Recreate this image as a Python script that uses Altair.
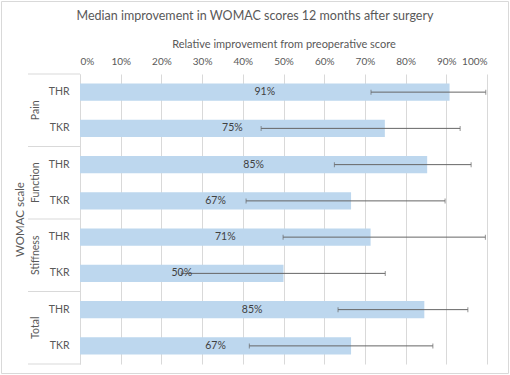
import altair as alt
import pandas as pd

# ---- data ----
groups = ["Pain", "Pain", "Function", "Function", "Stiffness", "Stiffness", "Total", "Total"]
procedures = ["THR", "TKR", "THR", "TKR", "THR", "TKR", "THR", "TKR"]
median = [0.908, 0.749, 0.853, 0.666, 0.714, 0.500, 0.846, 0.666]
err_lo = [0.715, 0.445, 0.625, 0.408, 0.499, 0.249, 0.634, 0.416]
err_hi = [0.997, 0.934, 0.961, 0.897, 0.996, 0.750, 0.953, 0.867]
group_names = ["Pain", "Function", "Stiffness", "Total"]
x_ticks = [0, 0.1, 0.2, 0.3, 0.4, 0.5, 0.6, 0.7, 0.8, 0.9, 1.0]

title_text = "Median improvement in WOMAC scores 12 months after surgery"
x_title = "Relative improvement from preoperative score"
y_title = "WOMAC scale"

rows = [g + "|" + p for g, p in zip(groups, procedures)]
df = pd.DataFrame({"row": rows, "group": groups, "proc": procedures,
                   "median": median, "lo": err_lo, "hi": err_hi})
df["mid"] = df["median"] / 2

FONT = "Lato"
TXT = "#595959"
GRID = "#d9d9d9"

yscale = alt.Scale(domain=rows, paddingInner=0, paddingOuter=0)

base = alt.Chart(df)

bars = base.mark_bar(color="#bdd7ee", height={"band": 0.47}).encode(
    x=alt.X("median:Q", scale=alt.Scale(domain=[0, 1], nice=False),
            axis=alt.Axis(orient="top", values=x_ticks, format=".0%", title=x_title,
                          grid=True, gridColor=GRID, ticks=False, tickSize=0, domain=False,
                          labelPadding=8, labelFontSize=10, labelColor=TXT, labelFont=FONT,
                          titleFont=FONT, titleFontSize=11, titleColor=TXT, titleFontWeight="normal",
                          titleY=-30, titleBaseline="middle")),
    y=alt.Y("row:N", scale=yscale, sort=rows,
            axis=alt.Axis(title=y_title, labelExpr="split(datum.value, '|')[1]",
                          ticks=False, tickSize=0, domain=True, domainColor=GRID, grid=False,
                          labelPadding=11, labelFontSize=10.5, labelColor=TXT, labelFont=FONT,
                          titleFont=FONT, titleFontSize=11.5, titleColor=TXT, titleFontWeight="normal",
                          titleAngle=270, titleX=-60, titleY=145, titleAlign="center",
                          titleBaseline="middle")),
)

labels = base.mark_text(font=FONT, fontSize=10.5, color="#404040", baseline="middle").encode(
    x="mid:Q",
    y=alt.Y("row:N", scale=yscale, sort=rows),
    text=alt.Text("median:Q", format=".0%"),
)

ERR = "#666666"
err = base.mark_rule(color=ERR, strokeWidth=1).encode(
    x="lo:Q", x2="hi:Q", y=alt.Y("row:N", scale=yscale, sort=rows))
cap_lo = base.mark_tick(color=ERR, thickness=1, size=5).encode(
    x="lo:Q", y=alt.Y("row:N", scale=yscale, sort=rows))
cap_hi = base.mark_tick(color=ERR, thickness=1, size=5).encode(
    x="hi:Q", y=alt.Y("row:N", scale=yscale, sort=rows))

sep_top_df = pd.DataFrame({"row": [g + "|THR" for g in group_names]})
sep_top = alt.Chart(sep_top_df).mark_rule(color=GRID, strokeWidth=1).encode(
    y=alt.Y("row:N", scale=yscale, sort=rows, bandPosition=0),
    x=alt.value(-52), x2=alt.value(0))
sep_bot_df = pd.DataFrame({"row": [rows[-1]]})
sep_bot = alt.Chart(sep_bot_df).mark_rule(color=GRID, strokeWidth=1).encode(
    y=alt.Y("row:N", scale=yscale, sort=rows, bandPosition=1),
    x=alt.value(-52), x2=alt.value(0))

grp_df = pd.DataFrame({"row": [g + "|TKR" for g in group_names], "name": group_names})
grp_text = alt.Chart(grp_df).mark_text(font=FONT, fontSize=10.5, color=TXT, angle=270,
                                       align="center", baseline="middle").encode(
    y=alt.Y("row:N", scale=yscale, sort=rows, bandPosition=0),
    x=alt.value(-44), text="name:N")

title_df = pd.DataFrame({"t": [title_text]})
title = alt.Chart(title_df).mark_text(font=FONT, fontSize=12.5, color=TXT,
                                      align="center", baseline="middle").encode(
    x=alt.value(175), y=alt.value(-58), text="t:N")

border = alt.Chart(title_df).mark_rect(fill=None, stroke=GRID, strokeWidth=1).encode(
    x=alt.value(-78.5), x2=alt.value(428.5), y=alt.value(-72.5), y2=alt.value(299.5))

chart = alt.layer(border, bars, err, cap_lo, cap_hi, labels, sep_top, sep_bot, grp_text, title).properties(
    width=407, height=290,
    autosize=alt.AutoSizeParams(type="none"),
    padding={"left": 80, "top": 74, "right": 23, "bottom": 11},
    background="white",
).configure_view(stroke=None)

chart.save("out.html", embed_options={"renderer": "svg", "actions": False})
